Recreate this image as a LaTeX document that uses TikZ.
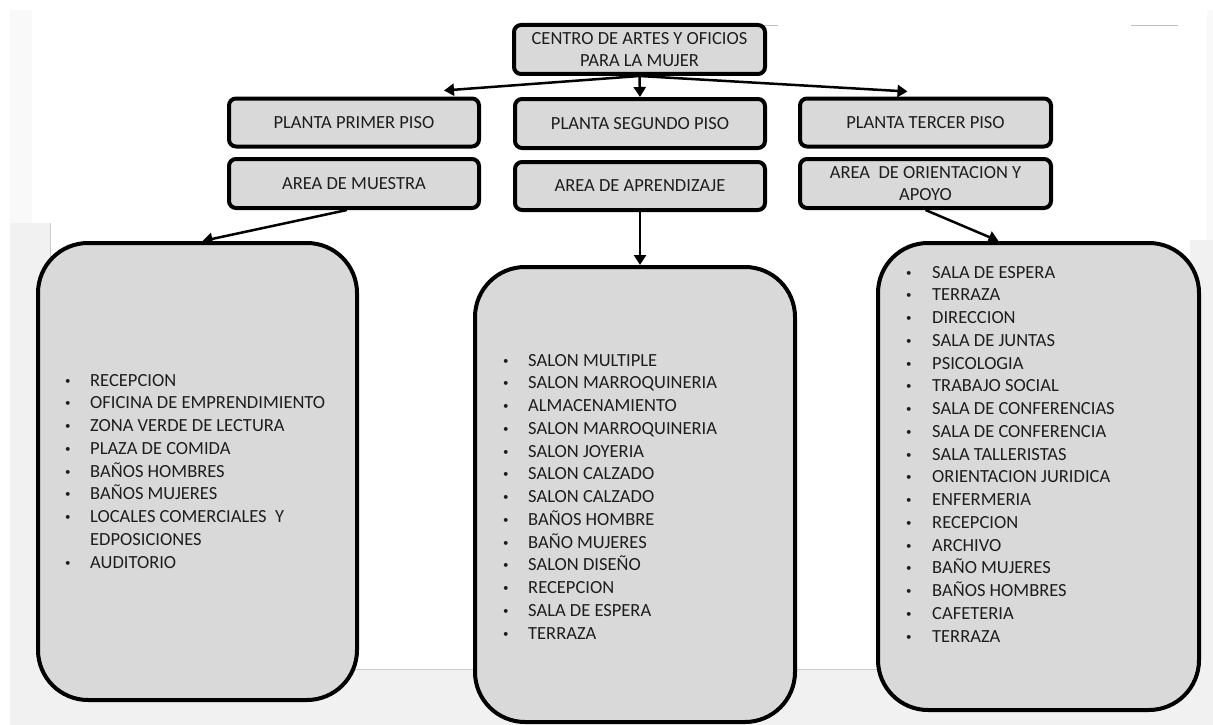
\documentclass[tikz,border=0pt]{standalone}
\usepackage{fontspec}
\setmainfont{Carlito}
\usetikzlibrary{arrows.meta}

% vineta pequena como la de la lista original
\newcommand{\vineta}{\raisebox{2pt}{\fontsize{11}{11}\selectfont\textbullet}}

\begin{document}
\begin{tikzpicture}[x=1pt, y=-1pt,
  caja/.style={draw=black, line width=4pt, fill=colorCaja, rounded corners=7pt, minimum width=250pt, minimum height=48pt, inner sep=0pt, align=center, text=colorTexto, font=\fontsize{18.5}{22.75}\selectfont},
  bloque/.style={draw=black, line width=4pt, fill=colorCaja, rounded corners=50pt, minimum width=320pt},
  lista/.style={anchor=base west, inner sep=0pt, text=colorTexto, font=\fontsize{18.5}{22.75}\selectfont},
  flecha/.style={line width=2.5pt, -{Triangle[length=10pt, width=12pt]}}
    ]
    % Colores
    \definecolor{colorCaja}{RGB}{217, 217, 217}
    \definecolor{colorTexto}{RGB}{30, 30, 30}
    \definecolor{colorFondo}{RGB}{241, 241, 241}
    \definecolor{colorPagina}{RGB}{249, 249, 249}

    \useasboundingbox (0,0) rectangle (1213,725);

    % Fondo (captura de pantalla)
    \fill[white] (0,0) rectangle (1213,725);
    \fill[colorPagina] (10,10) rectangle (32,223) (1207,10) rectangle (1213,240);
    \fill[colorFondo] (10,669) rectangle (1213,725) (10,223) rectangle (50,725) (1190,240) rectangle (1213,725);
    \draw[black!20, line width=1pt] (50,669) -- (1190,669) (50,223) -- (50,669);
    \draw[black!25, line width=1pt] (757,26) -- (778,26) (1131,26) -- (1178,26);

    % Titulo
    \node[caja, minimum width=251pt, minimum height=49pt] (centro) at (639.5,49.5) {CENTRO DE ARTES Y OFICIOS\\PARA LA MUJER};

    % Plantas
    \node[caja] (primer) at (354,122.5) {PLANTA PRIMER PISO};
    \node[caja, minimum height=49pt] (segundo) at (640,123.5) {PLANTA SEGUNDO PISO};
    \node[caja, minimum width=251pt] (tercer) at (925.5,122.5) {PLANTA TERCER PISO};

    % Areas
    \node[caja, minimum height=49pt] (muestra) at (354,183.5) {AREA DE MUESTRA};
    \node[caja] (aprendizaje) at (640,186) {AREA DE APRENDIZAJE};
    \node[caja, minimum width=251pt, minimum height=49pt] (orientacion) at (925.5,183.5) {AREA\ \ DE ORIENTACION Y\\APOYO};

    % Bloques con los espacios
    \node[bloque, minimum width=319pt, minimum height=457pt] (espMuestra) at (197.5,471.5) {};
    \node[bloque, minimum height=455pt] (espAprendizaje) at (635,494.5) {};
    \node[bloque, minimum width=321pt, minimum height=467pt] (espOrientacion) at (1038.5,476.5) {};

    \node[lista] (listaMuestra) at (65,386) {\begin{tabular}[t]{@{}p{25pt}@{}l@{}}
      \vineta & RECEPCION\\
      \vineta & OFICINA DE EMPRENDIMIENTO\\
      \vineta & ZONA VERDE DE LECTURA\\
      \vineta & PLAZA DE COMIDA\\
      \vineta & BAÑOS HOMBRES\\
      \vineta & BAÑOS MUJERES\\
      \vineta & LOCALES COMERCIALES\ \ Y\\
              & EDPOSICIONES\\
      \vineta & AUDITORIO
    \end{tabular}};

    \node[lista] (listaAprendizaje) at (503,366) {\begin{tabular}[t]{@{}p{25pt}@{}l@{}}
      \vineta & SALON MULTIPLE\\
      \vineta & SALON MARROQUINERIA\\
      \vineta & ALMACENAMIENTO\\
      \vineta & SALON MARROQUINERIA\\
      \vineta & SALON JOYERIA\\
      \vineta & SALON CALZADO\\
      \vineta & SALON CALZADO\\
      \vineta & BAÑOS HOMBRE\\
      \vineta & BAÑO MUJERES\\
      \vineta & SALON DISEÑO\\
      \vineta & RECEPCION\\
      \vineta & SALA DE ESPERA\\
      \vineta & TERRAZA
    \end{tabular}};

    \node[lista] (listaOrientacion) at (906,278) {\begin{tabular}[t]{@{}p{26pt}@{}l@{}}
      \vineta & SALA DE ESPERA\\
      \vineta & TERRAZA\\
      \vineta & DIRECCION\\
      \vineta & SALA DE JUNTAS\\
      \vineta & PSICOLOGIA\\
      \vineta & TRABAJO SOCIAL\\
      \vineta & SALA DE CONFERENCIAS\\
      \vineta & SALA DE CONFERENCIA\\
      \vineta & SALA TALLERISTAS\\
      \vineta & ORIENTACION JURIDICA\\
      \vineta & ENFERMERIA\\
      \vineta & RECEPCION\\
      \vineta & ARCHIVO\\
      \vineta & BAÑO MUJERES\\
      \vineta & BAÑOS HOMBRES\\
      \vineta & CAFETERIA\\
      \vineta & TERRAZA
    \end{tabular}};

    % Flechas
    \draw[flecha] (centro.south) -- ([xshift=90pt, yshift=6pt]primer.north);
    \draw[flecha] (centro.south) -- (segundo.north);
    \draw[flecha] (centro.south) -- ([xshift=-18pt, yshift=5pt]tercer.north);
    \draw[flecha] ([xshift=-7pt]muestra.south) -- ([xshift=5pt]espMuestra.north);
    \draw[flecha] (aprendizaje.south) -- ([xshift=5pt]espAprendizaje.north);
    \draw[flecha] (orientacion.south) -- ([xshift=-40pt]espOrientacion.north);
    \end{tikzpicture}
\end{document}
